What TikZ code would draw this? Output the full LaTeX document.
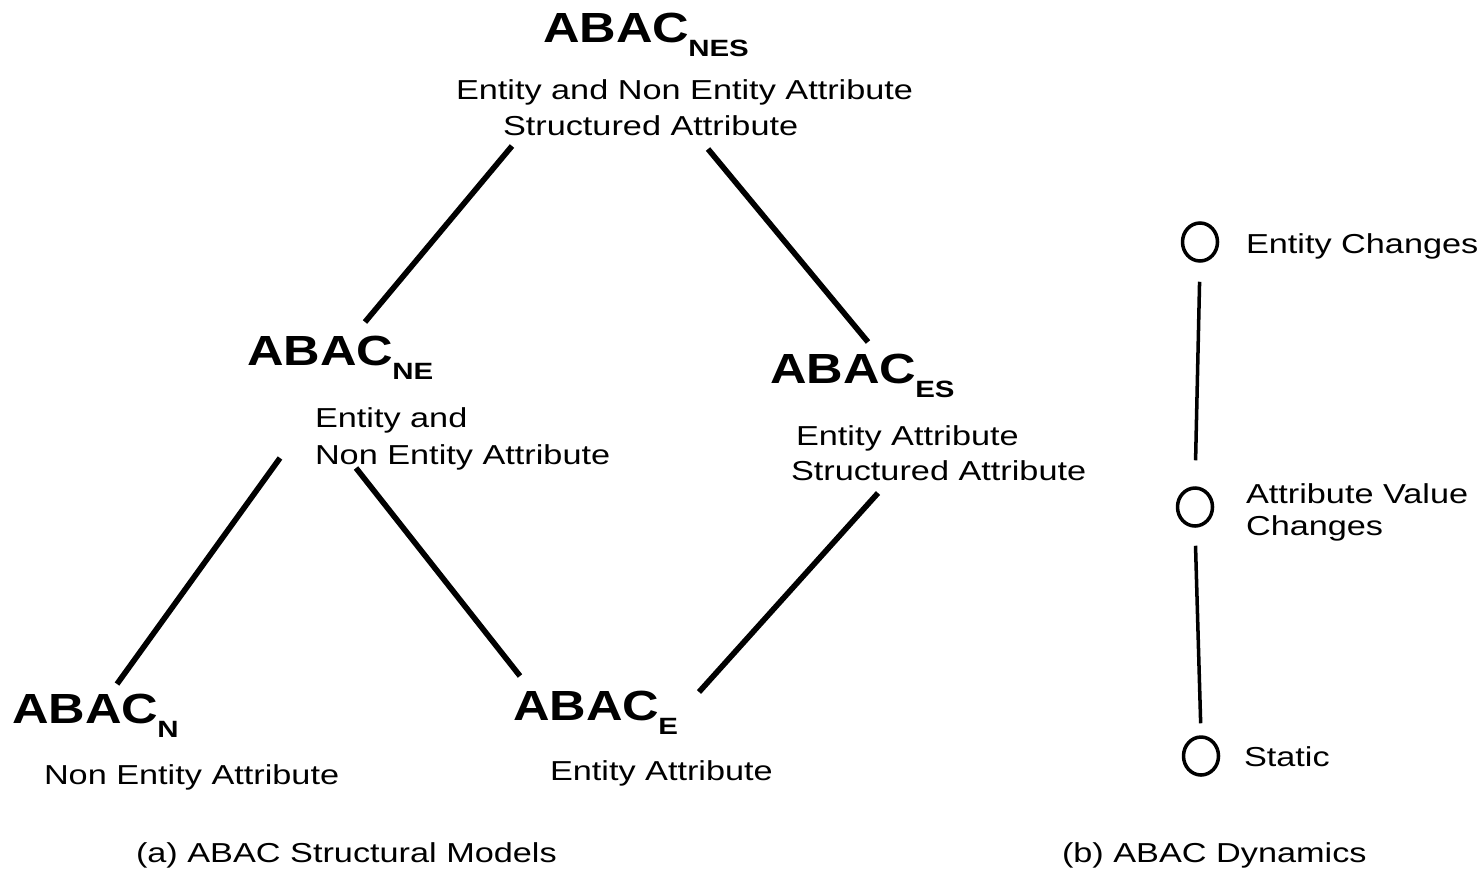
\documentclass[tikz,border=0pt]{standalone}
\usepackage{fontspec}
\setmainfont{Liberation Sans}
\usepackage{graphicx}
\usetikzlibrary{shapes.geometric}
\newcommand{\abacT}[1]{\scalebox{1.2}[1]{\fontsize{24}{24}\selectfont\bfseries ABAC}\hspace{-0.5pt}\raisebox{-8pt}{\scalebox{1.25}[1]{\fontsize{13.4}{13.4}\selectfont\bfseries #1}}}
\newcommand{\bodyT}[1]{\scalebox{1.25}[1]{\fontsize{15.6}{15.6}\selectfont #1}}
\begin{document}
\begin{tikzpicture}[x=0.02cm,y=-0.02cm,
  lbl/.style={anchor=base west, inner sep=0pt, outer sep=0pt},
  edge/.style={line width=3.2pt},
  vline/.style={line width=2pt},
  ring/.style={draw, line width=2pt, ellipse, minimum width=0.7cm, minimum height=0.76cm, inner sep=0pt}]
\useasboundingbox (0,0) rectangle (1484,870);
% titles
\node[lbl] (nes) at (543,42) {\abacT{NES}};
\node[lbl] (ne)  at (247,365) {\abacT{NE}};
\node[lbl] (es)  at (770,383) {\abacT{ES}};
\node[lbl] (n)   at (12,723) {\abacT{N}};
\node[lbl] (e)   at (513,720) {\abacT{E}};
% descriptions
\node[lbl] (nesA) at (456,99)  {\bodyT{Entity and Non Entity Attribute}};
\node[lbl] (nesB) at (503,135) {\bodyT{Structured Attribute}};
\node[lbl] (neA)  at (315,427) {\bodyT{Entity and}};
\node[lbl] (neB)  at (315,464) {\bodyT{Non Entity Attribute}};
\node[lbl] (esA)  at (796,445) {\bodyT{Entity Attribute}};
\node[lbl] (esB)  at (791,480) {\bodyT{Structured Attribute}};
\node[lbl] (nA)   at (44,784)  {\bodyT{Non Entity Attribute}};
\node[lbl] (eA)   at (550,780) {\bodyT{Entity Attribute}};
% captions
\node[lbl] (capa) at (136,862) {\bodyT{(a) ABAC Structural Models}};
\node[lbl] (capb) at (1062,862) {\bodyT{(b) ABAC Dynamics}};
% lattice edge end points
\coordinate (p1) at (512,146);
\coordinate (p2) at (365,322);
\coordinate (p3) at (708,149);
\coordinate (p4) at (868,342);
\coordinate (p5) at (280,458);
\coordinate (p6) at (117,684);
\coordinate (p7) at (356,468);
\coordinate (p8) at (520,676);
\coordinate (p9) at (878,493);
\coordinate (p10) at (699,692);
\draw[edge] (p1) -- (p2);
\draw[edge] (p3) -- (p4);
\draw[edge] (p5) -- (p6);
\draw[edge] (p7) -- (p8);
\draw[edge] (p9) -- (p10);
% dynamics
\node[ring] (c1) at (1200,242) {};
\node[ring] (c2) at (1195,507) {};
\node[ring] (c3) at (1201,756) {};
\node[lbl] (d1)  at (1246,253) {\bodyT{Entity Changes}};
\node[lbl] (d2a) at (1246,503) {\bodyT{Attribute Value}};
\node[lbl] (d2b) at (1246,535) {\bodyT{Changes}};
\node[lbl] (d3)  at (1244,766) {\bodyT{Static}};
\draw[vline, shorten <=0.38cm, shorten >=0.52cm] (c1.south) -- (c2.north);
\draw[vline, shorten <=0.36cm, shorten >=0.24cm] (c2.south) -- (c3.north);
\end{tikzpicture}
\end{document}
